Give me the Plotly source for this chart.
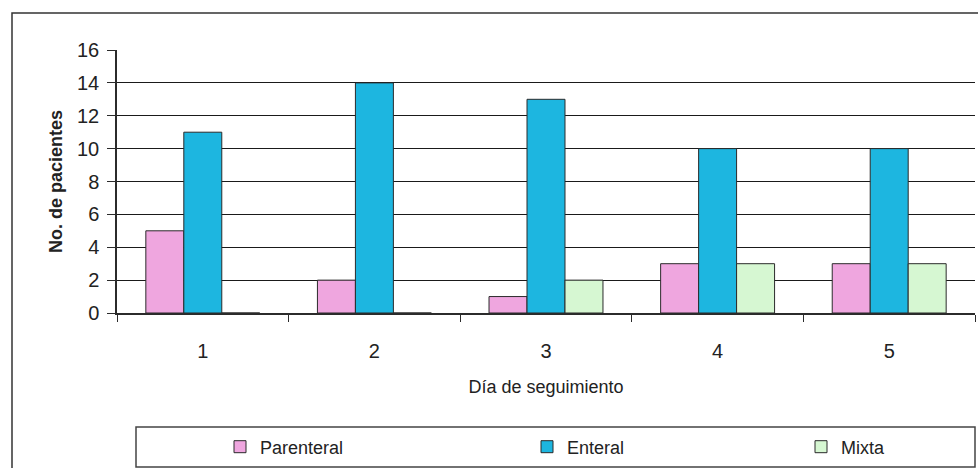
import plotly.graph_objects as go

# Patients per feeding route on each follow-up day
dias = ["1", "2", "3", "4", "5"]
parenteral = [5, 2, 1, 3, 3]
enteral = [11, 14, 13, 10, 10]
mixta = [0, 0, 2, 3, 3]

series_names = ["Parenteral", "Enteral", "Mixta"]
series_values = [parenteral, enteral, mixta]
series_colors = ["#EFA6DF", "#1DB6E0", "#D6F7D2"]

W, H = 978, 468
L, R, T, B = 117, 3, 50, 155   # plot area: x 117..975, y 50..313
PW, PH = W - L - R, H - T - B


def px_x(px):
    return (px - L) / PW


def px_y(py):
    return (H - B - py) / PH


FONT = "Liberation Sans, Arial, sans-serif"
EDGE = "#2b2b2b"

fig = go.Figure()
legend_keys = ["legend", "legend2", "legend3"]
for name, vals, col, lk in zip(series_names, series_values, series_colors, legend_keys):
    fig.add_trace(go.Bar(
        x=dias, y=vals, name=name,
        marker=dict(color=col, line=dict(color=EDGE, width=1)),
        legend=lk,
    ))

# legend entries spaced out across the bottom box
marker_centers = [242, 549, 823]
legend_y = px_y(447)
legend_common = dict(
    orientation="h", xanchor="left", yanchor="middle", y=legend_y,
    bgcolor="rgba(0,0,0,0)", borderwidth=0,
    font=dict(family=FONT, size=18, color="#222"),
)
legends = {}
for lk, cx in zip(legend_keys, marker_centers):
    legends[lk] = dict(x=px_x(cx - 22), **legend_common)

fig.update_layout(
    width=W, height=H,
    margin=dict(l=L, r=R, t=T, b=B),
    paper_bgcolor="white", plot_bgcolor="white",
    barmode="group", bargap=0.336, bargroupgap=0,
    font=dict(family=FONT, size=18, color="#222"),
    showlegend=True,
    **legends,
    xaxis=dict(
        type="category", tickson="boundaries",
        ticks="outside", ticklen=7, tickcolor=EDGE, tickwidth=1,
        showline=True, linecolor=EDGE, linewidth=1.5,
        showgrid=False, ticklabelstandoff=19,
        tickfont=dict(size=20),
        title=dict(text="Día de seguimiento", font=dict(size=18), standoff=20),
    ),
    yaxis=dict(
        range=[0, 16], dtick=2, tick0=0,
        ticks="outside", ticklen=8, tickcolor=EDGE, tickwidth=1,
        showline=True, linecolor=EDGE, linewidth=1.5,
        showgrid=True, gridcolor="#1a1a1a", gridwidth=1.2,
        zeroline=False, ticklabelstandoff=4,
        tickfont=dict(size=20),
        title=dict(text="<b>No. de pacientes</b>", font=dict(size=18), standoff=10),
    ),
    shapes=[
        # outer chart frame
        dict(type="rect", xref="paper", yref="paper",
             x0=px_x(12), x1=px_x(990), y0=px_y(480), y1=px_y(13),
             line=dict(color="#333", width=1.5), fillcolor="rgba(0,0,0,0)", layer="below"),
        # legend box
        dict(type="rect", xref="paper", yref="paper",
             x0=px_x(136), x1=px_x(975), y0=px_y(467), y1=px_y(427),
             line=dict(color="#444", width=1.5), fillcolor="rgba(0,0,0,0)", layer="below"),
    ],
)

fig.write_html("out.html")
